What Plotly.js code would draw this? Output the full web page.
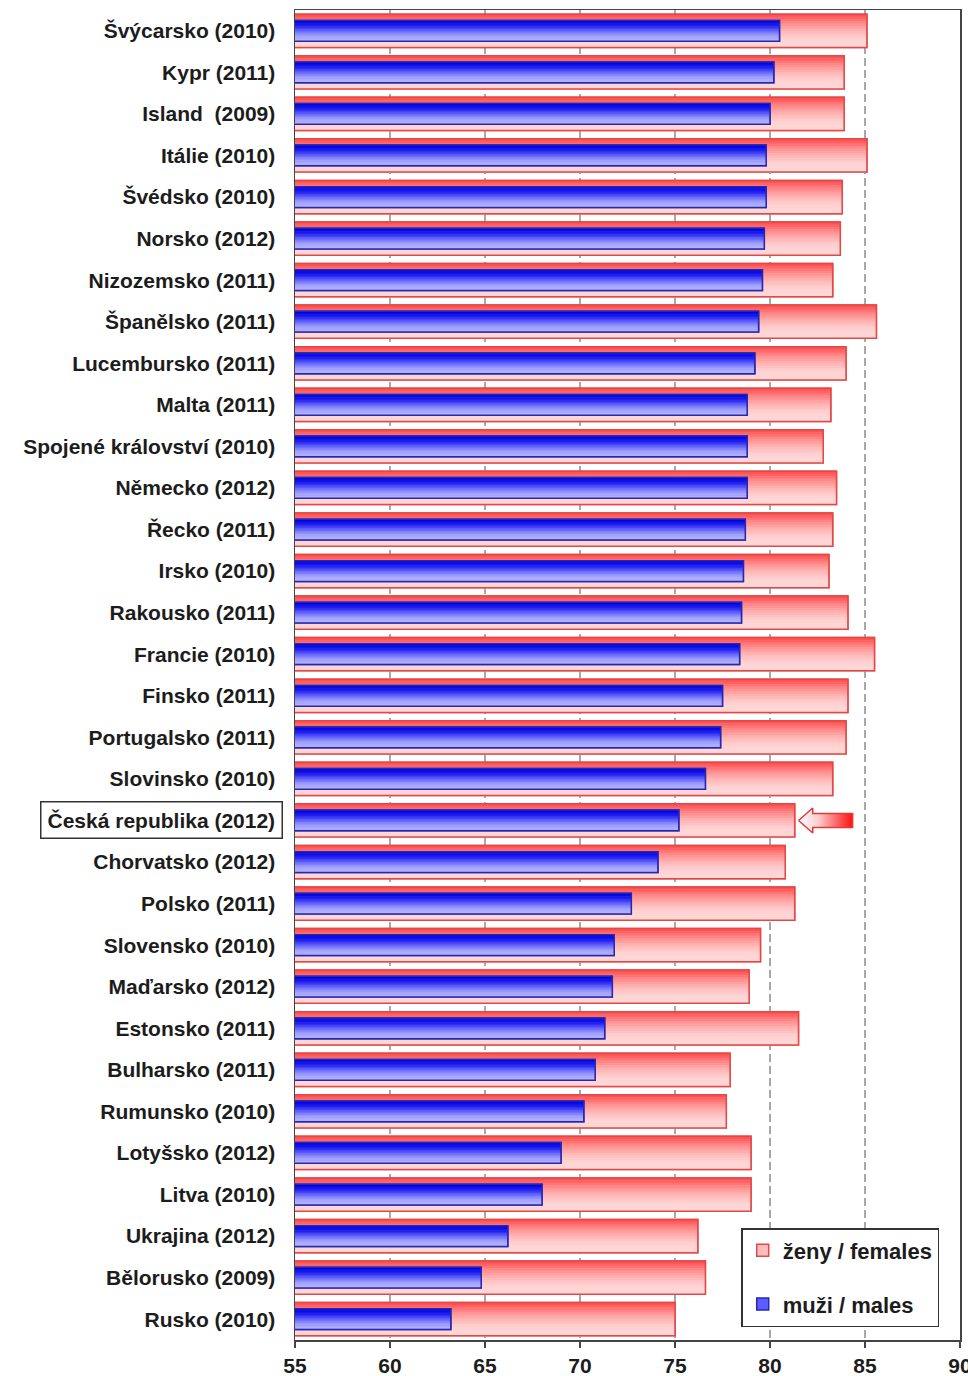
<!DOCTYPE html>
<html>
<head>
<meta charset="utf-8">
<script src="https://cdn.plot.ly/plotly-3.0.1.min.js"></script>
<style>
  html, body { margin: 0; padding: 0; background: #ffffff; }
  #chart { width: 968px; height: 1376px; }
</style>
</head>
<body>
<div id="chart"></div>
<script>
// ---- data ----
const categories = [
  'Švýcarsko (2010)', 'Kypr (2011)', 'Island  (2009)', 'Itálie (2010)', 'Švédsko (2010)',
  'Norsko (2012)', 'Nizozemsko (2011)', 'Španělsko (2011)', 'Lucembursko (2011)', 'Malta (2011)',
  'Spojené království (2010)', 'Německo (2012)', 'Řecko (2011)', 'Irsko (2010)', 'Rakousko (2011)',
  'Francie (2010)', 'Finsko (2011)', 'Portugalsko (2011)', 'Slovinsko (2010)', 'Česká republika (2012)',
  'Chorvatsko (2012)', 'Polsko (2011)', 'Slovensko (2010)', 'Maďarsko (2012)', 'Estonsko (2011)',
  'Bulharsko (2011)', 'Rumunsko (2010)', 'Lotyšsko (2012)', 'Litva (2010)', 'Ukrajina (2012)',
  'Bělorusko (2009)', 'Rusko (2010)'
];
const females = [
  85.1, 83.9, 83.9, 85.1, 83.8,
  83.7, 83.3, 85.6, 84.0, 83.2,
  82.8, 83.5, 83.3, 83.1, 84.1,
  85.5, 84.1, 84.0, 83.3, 81.3,
  80.8, 81.3, 79.5, 78.9, 81.5,
  77.9, 77.7, 79.0, 79.0, 76.2,
  76.6, 75.0
];
const males = [
  80.5, 80.2, 80.0, 79.8, 79.8,
  79.7, 79.6, 79.4, 79.2, 78.8,
  78.8, 78.8, 78.7, 78.6, 78.5,
  78.4, 77.5, 77.4, 76.6, 75.2,
  74.1, 72.7, 71.8, 71.7, 71.3,
  70.8, 70.2, 69.0, 68.0, 66.2,
  64.8, 63.2
];
const seriesNames = ['ženy / females', 'muži / males'];
const xTicks = [55, 60, 65, 70, 75, 80, 85, 90];
const highlighted = 'Česká republika (2012)';

// ---- styles ----
const FONT = 'Liberation Sans, Arial, sans-serif';
const TXT = '#1c1c1c';
const RED_W = 0.80, BLUE_W = 0.50, NBANDS = 14;

// smooth vertical gradient colours (top -> bottom) interpolated between style anchors
function hexToRgb(h) { return [1, 3, 5].map(i => parseInt(h.substr(i, 2), 16)); }
function gradient(anchors, n) {
  const rgb = anchors.map(hexToRgb), out = [];
  for (let k = 0; k < n; k++) {
    const t = k / (n - 1) * (rgb.length - 1);
    const i = Math.min(Math.floor(t), rgb.length - 2), f = t - i;
    const c = rgb[i].map((v, j) => Math.round(v + (rgb[i + 1][j] - v) * f));
    out.push('rgb(' + c.join(',') + ')');
  }
  return out;
}
const redBands = gradient(['#ff5252', '#ff8a8a', '#ffb4b4', '#ffd2d2', '#ffd8d8'], NBANDS);
const blueBands = gradient(['#0000e0', '#2020f0', '#6464fa', '#a0a0fe', '#b6b6ff'], NBANDS);

const yIdx = categories.map((_, i) => i);
const traces = [];

function addSeries(values, name, group, baseFill, lineColor, bands, W) {
  traces.push({
    type: 'bar', orientation: 'h', name: name, legendgroup: group,
    x: values, y: yIdx, width: W, offset: -W / 2,
    marker: { color: baseFill, line: { color: lineColor, width: 1.5 } },
    hoverinfo: 'x+name'
  });
  const h = W / bands.length;
  bands.forEach((c, k) => {
    traces.push({
      type: 'bar', orientation: 'h', showlegend: false, hoverinfo: 'skip',
      x: values, y: yIdx, width: h * 1.3, offset: -W / 2 + k * h,
      marker: { color: c, line: { width: 0 } }
    });
  });
  traces.push({
    type: 'bar', orientation: 'h', showlegend: false, hoverinfo: 'skip',
    x: values, y: yIdx, width: W, offset: -W / 2,
    marker: { color: 'rgba(0,0,0,0)', line: { color: lineColor, width: 1.5 } }
  });
}

addSeries(females, seriesNames[0], 'f', '#ffbcbc', '#e24848', redBands, RED_W);
addSeries(males, seriesNames[1], 'm', '#5c5cff', '#2626b4', blueBands, BLUE_W);

// arrow pointing at the highlighted country
const cz = categories.indexOf(highlighted);
const tip = females[cz] + 0.2;
const headL = 0.75, shaftL = 2.1, headH = 0.30, shaftH = 0.17;
traces.push({
  type: 'scatter', mode: 'lines', showlegend: false, hoverinfo: 'skip',
  x: [tip, tip + headL, tip + headL, tip + headL + shaftL, tip + headL + shaftL, tip + headL, tip + headL, tip],
  y: [cz, cz - headH, cz - shaftH, cz - shaftH, cz + shaftH, cz + shaftH, cz + headH, cz],
  fill: 'toself',
  fillgradient: { type: 'horizontal', colorscale: [[0, '#ffffff'], [0.35, '#ffd0d0'], [1, '#ff1010']] },
  line: { color: '#e03a3a', width: 1.5 }
});

const tickText = categories.map(c => c === highlighted ? '' : c);

const layout = {
  width: 968, height: 1376,
  margin: { l: 295, r: 8, t: 10, b: 36 },
  paper_bgcolor: '#ffffff', plot_bgcolor: '#ffffff',
  barmode: 'overlay',
  font: { family: FONT, size: 21, color: TXT },
  showlegend: true,
  legend: {
    x: 0.671, y: 0.0842, xanchor: 'left', yanchor: 'top',
    bgcolor: '#ffffff', bordercolor: '#333333', borderwidth: 1.5,
    font: { family: FONT, size: 22, color: TXT, weight: 'bold' },
    traceorder: 'grouped', tracegroupgap: 22, itemwidth: 30,
    entrywidth: 206, entrywidthmode: 'pixels'
  },
  xaxis: {
    range: [55, 90], tickvals: xTicks, ticktext: xTicks.map(String),
    showgrid: true, gridcolor: '#a8a8a8', gridwidth: 1.5, griddash: '8px,4px',
    zeroline: false,
    showline: true, mirror: true, linecolor: '#444444', linewidth: 1.5,
    ticks: 'outside', ticklen: 6, tickcolor: '#444444', tickwidth: 1.5,
    ticklabeloverflow: 'allow',
    tickfont: { family: FONT, size: 21, color: TXT, weight: 'bold' },
    fixedrange: true
  },
  yaxis: {
    range: [categories.length - 0.5, -0.5],
    tickvals: yIdx, ticktext: tickText,
    showgrid: false, zeroline: false,
    showline: true, mirror: true, linecolor: '#444444', linewidth: 1.5,
    ticks: '', ticklabelstandoff: 14,
    tickfont: { family: FONT, size: 21, color: TXT, weight: 'bold' },
    automargin: false, fixedrange: true
  },
  annotations: [{
    xref: 'paper', yref: 'y', x: 0, y: cz,
    xanchor: 'right', yanchor: 'middle', xshift: -12,
    text: highlighted, showarrow: false,
    font: { family: FONT, size: 21, color: TXT, weight: 'bold' },
    bordercolor: '#333333', borderwidth: 1.5, borderpad: 6, bgcolor: '#ffffff'
  }]
};

Plotly.newPlot('chart', traces, layout, { displayModeBar: false, staticPlot: true });
</script>
</body>
</html>
